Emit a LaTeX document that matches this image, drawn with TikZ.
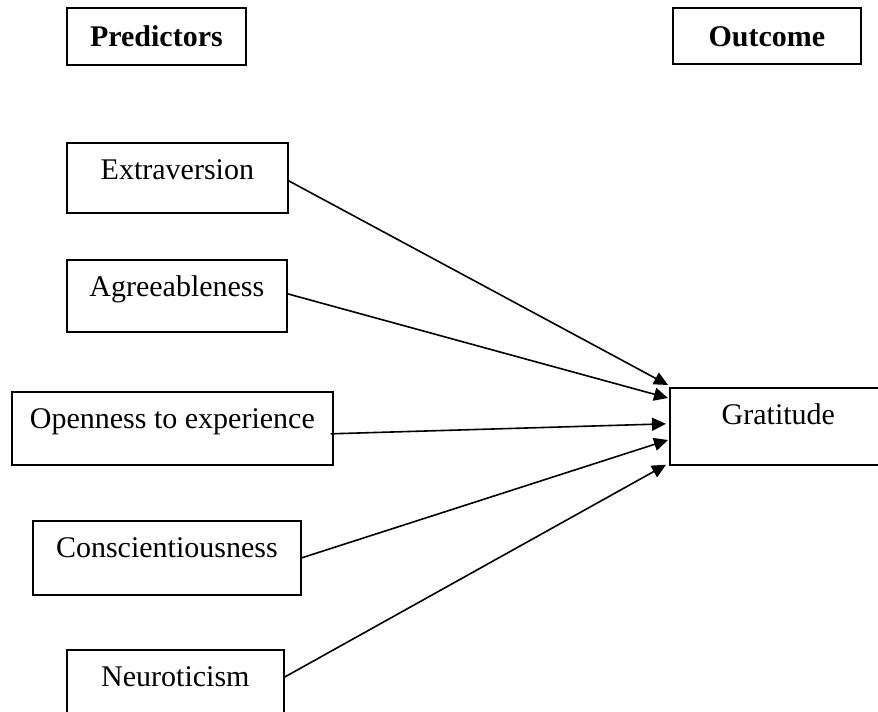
\documentclass[tikz,border=0pt]{standalone}
\usepackage{fontspec}
\setmainfont{Liberation Serif}
\usetikzlibrary{arrows.meta}

\tikzset{
  factor/.style={draw, line width=1.3pt, inner sep=0pt, anchor=north west,
    text height=27.75pt, font=\fontsize{22.5}{27}\selectfont},
  heading/.style={factor, text height=29.25pt,
    font=\fontsize{22.5}{27}\selectfont\bfseries},
  link/.style={line width=1.2pt, -{Triangle[length=10.5pt,width=9.75pt]}}
}

\begin{document}
\begin{tikzpicture}[x=0.75pt,y=0.75pt,yscale=-1,xscale=1]
\useasboundingbox (0,0) rectangle (878,712);
\clip (0,0) rectangle (878,712);

% Headings
\node [heading, minimum width=134.25pt, text depth=13.5pt] (pred) at (66,7) {Predictors};
\node [heading, minimum width=141pt, text depth=12.75pt] (outc) at (672,7) {Outcome};

% Predictor boxes
\node [factor, minimum width=165.75pt, text depth=24.75pt] (extra) at (66,142) {Extraversion};
\node [factor, minimum width=165pt, text depth=26.25pt] (agree) at (66,259) {Agreeableness};
\node [factor, minimum width=240.75pt, text depth=27pt] (open) at (11,391) {Openness to experience};
\node [factor, minimum width=201pt, text depth=27.75pt] (consc) at (32,520) {Conscientiousness};
\node [factor, minimum width=162.75pt, text depth=26.25pt] (neuro) at (66,649) {Neuroticism};

% Outcome box
\node [factor, minimum width=162.75pt, text depth=30pt] (grat) at (669,387) {Gratitude};

%Straight Lines (yshift runs downwards here, yscale=-1)
\draw [link] ([yshift=2.25pt]extra.east) -- ([xshift=-0.75pt,yshift=-1.5pt]grat.north west);
\draw [link] ([yshift=-1.5pt]agree.east) -- ([xshift=-0.75pt,yshift=8.25pt]grat.north west);
\draw [link] ([xshift=-2.25pt,yshift=4.1pt]open.east) -- ([xshift=-2.25pt,yshift=-1.9pt]grat.west);
\draw [link] (consc.east) -- ([xshift=-0.75pt,yshift=39.75pt]grat.north west);
\draw [link] ([yshift=21pt]neuro.north east) -- ([xshift=-2.25pt,yshift=-0.75pt]grat.south west);

\end{tikzpicture}
\end{document}
